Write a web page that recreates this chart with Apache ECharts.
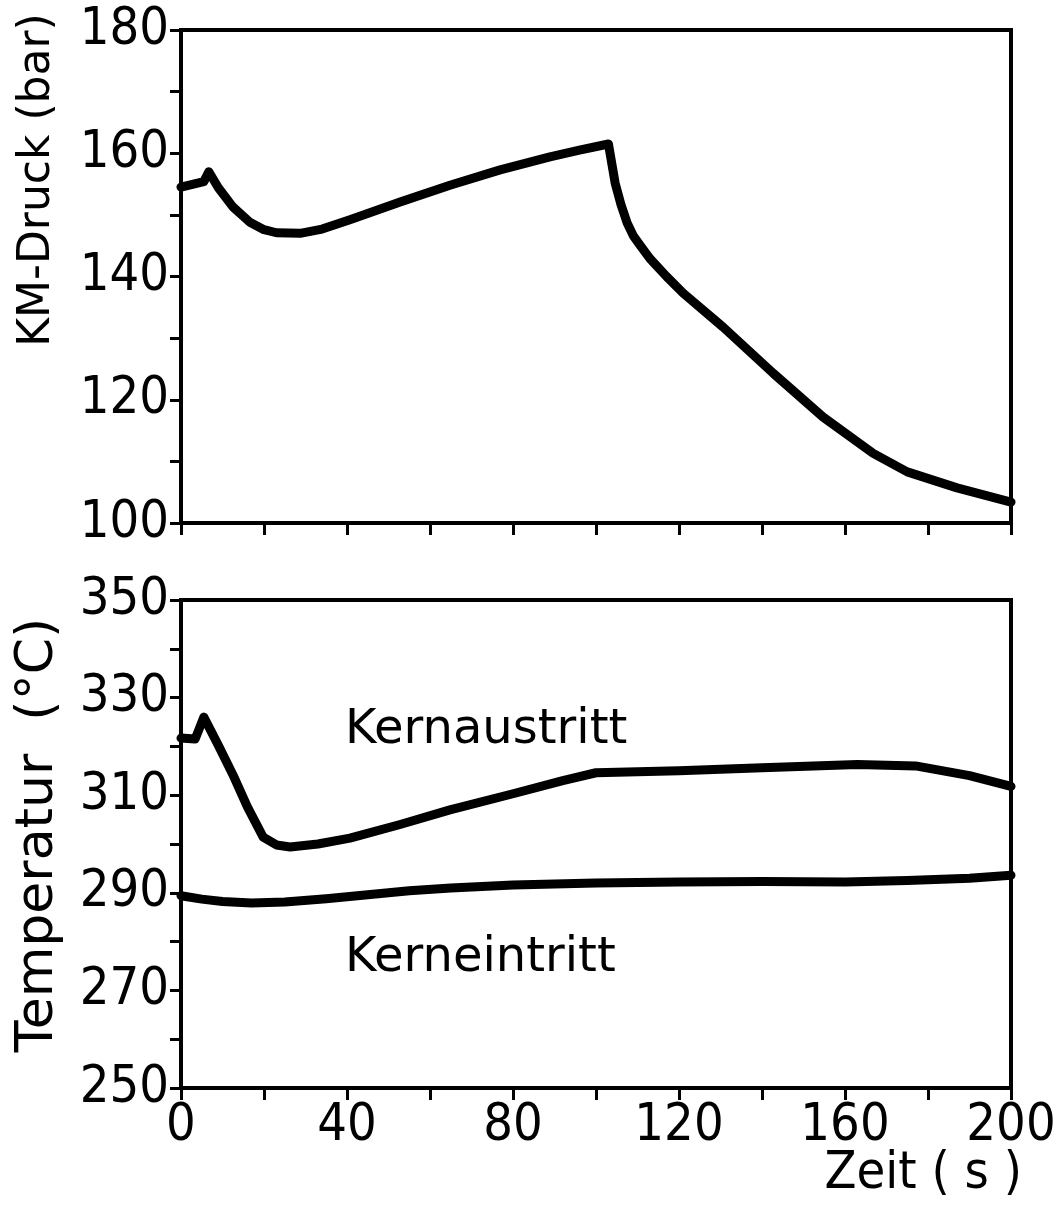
<!DOCTYPE html>
<html>
<head>
<meta charset="utf-8">
<script src="https://cdn.jsdelivr.net/npm/echarts@6/dist/echarts.min.js"></script>
<style>
	html, body { margin: 0; padding: 0; background: #fff; }
	#chart { width: 1056px; height: 1209px; }
</style>
</head>
<body>
<div id="chart"></div>
<script>
	// KM-Druck (bar) über Zeit (s)
	var druckZeit = [0, 3, 5.5, 6.7, 9, 12.5, 16.6, 20, 23, 28.7, 34, 40.7, 52.8, 64.8, 76.9, 88.9, 96, 103,
		104.6, 106, 107.5, 109, 110.6, 113, 117, 121, 130.6, 142.7, 154.7, 166.8, 175, 187, 200];
	var druckWert = [154.5, 155, 155.4, 157, 154.4, 151.3, 148.8, 147.6, 147.1, 147, 147.7, 149.2, 152.1, 154.8, 157.3, 159.4, 160.5, 161.5,
		155.2, 151.7, 148.7, 146.6, 145.1, 142.9, 140, 137.3, 131.8, 124.3, 117.2, 111.3, 108.3, 105.7, 103.4];

	// Temperatur Kernaustritt (°C)
	var austrittZeit = [0, 3.4, 5.5, 9, 12.5, 16, 19.8, 23, 26.3, 33, 40.7, 52.8, 64.8, 80, 92, 100, 120, 140, 163, 177, 190, 200];
	var austrittWert = [321.7, 321.5, 326, 320.2, 314.2, 307.6, 301.4, 299.8, 299.4, 300, 301.2, 304, 307, 310.3, 313, 314.6, 315, 315.6, 316.3, 316, 314, 311.8];

	// Temperatur Kerneintritt (°C)
	var eintrittZeit = [0, 5, 10, 17, 25, 35, 45, 55, 65, 80, 100, 120, 140, 160, 175, 190, 200];
	var eintrittWert = [289.4, 288.7, 288.2, 287.9, 288.1, 288.8, 289.6, 290.4, 291, 291.6, 292, 292.2, 292.3, 292.2, 292.5, 293, 293.6];

	function paare(xs, ys) {
		var out = [];
		for (var i = 0; i < xs.length; i++) out.push([xs[i], ys[i]]);
		return out;
	}

	var zahlFont = '"DejaVu Sans Condensed", "Liberation Sans Narrow", sans-serif';
	var textFont = '"DejaVu Sans", sans-serif';

	function xAchse(grid, labels) {
		return {
			type: 'value', gridIndex: grid, min: 0, max: 200, interval: 40,
			axisLine: { lineStyle: { color: '#000', width: 4 } },
			axisTick: { show: true, length: 12, lineStyle: { color: '#000', width: 3 } },
			minorTick: { show: true, splitNumber: 2, length: 12, lineStyle: { color: '#000', width: 3 } },
			splitLine: { show: false },
			axisLabel: { show: labels, color: '#000', fontSize: 52, fontFamily: zahlFont, margin: 12 }
		};
	}
	function yAchse(grid, min, max) {
		return {
			type: 'value', gridIndex: grid, min: min, max: max, interval: 20,
			axisLine: { lineStyle: { color: '#000', width: 4 } },
			axisTick: { show: true, length: 11, lineStyle: { color: '#000', width: 3 } },
			minorTick: { show: true, splitNumber: 2, length: 11, lineStyle: { color: '#000', width: 3 } },
			splitLine: { show: false },
			axisLabel: { color: '#000', fontSize: 52, fontFamily: zahlFont, margin: 12 }
		};
	}
	function kurve(x, y, daten) {
		return {
			type: 'line', xAxisIndex: x, yAxisIndex: y, data: daten,
			showSymbol: false, smooth: false, animation: false,
			lineStyle: { color: '#000', width: 9, join: 'round', cap: 'round' }
		};
	}

	var myChart = echarts.init(document.getElementById('chart'));
	var option = {
		backgroundColor: '#fff',
		animation: false,
		grid: [
			{ left: 181, top: 30, width: 830, height: 493, show: true, borderColor: '#000', borderWidth: 4, outerBoundsMode: 'none', containLabel: false },
			{ left: 181, top: 600, width: 830, height: 488, show: true, borderColor: '#000', borderWidth: 4, outerBoundsMode: 'none', containLabel: false }
		],
		xAxis: [xAchse(0, false), xAchse(1, true)],
		yAxis: [yAchse(0, 100, 180), yAchse(1, 250, 350)],
		series: [
			kurve(0, 0, paare(druckZeit, druckWert)),
			kurve(1, 1, paare(austrittZeit, austrittWert)),
			kurve(1, 1, paare(eintrittZeit, eintrittWert))
		],
		graphic: [
			{ type: 'text', x: 38, y: 180, rotation: Math.PI / 2,
				style: { text: 'KM-Druck (bar)', fill: '#000', font: '44px ' + textFont, textAlign: 'center', textVerticalAlign: 'middle' } },
			{ type: 'text', x: 38, y: 835, rotation: Math.PI / 2,
				style: { text: 'Temperatur  (°C)', fill: '#000', font: '52px ' + textFont, textAlign: 'center', textVerticalAlign: 'middle' } },
			{ type: 'text', x: 345, y: 731,
				style: { text: 'Kernaustritt', fill: '#000', font: '48px ' + textFont, textAlign: 'left', textVerticalAlign: 'middle' } },
			{ type: 'text', x: 345, y: 959,
				style: { text: 'Kerneintritt', fill: '#000', font: '48px ' + textFont, textAlign: 'left', textVerticalAlign: 'middle' } },
			{ type: 'text', x: 1022, y: 1174,
				style: { text: 'Zeit ( s )', fill: '#000', font: '52px ' + zahlFont, textAlign: 'right', textVerticalAlign: 'middle' } }
		]
	};
	myChart.setOption(option);
</script>
</body>
</html>
